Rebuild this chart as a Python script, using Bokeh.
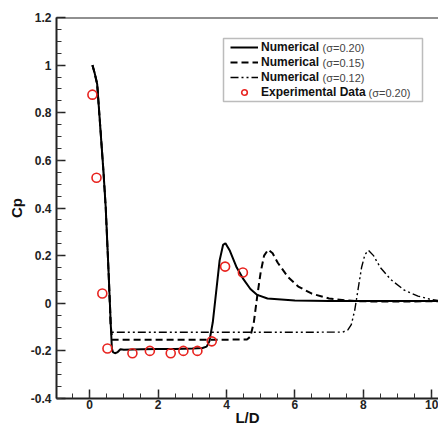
from bokeh.plotting import figure
from bokeh.models import (Range1d, FixedTicker, Span, Legend, LegendItem, Label,
                          BoxAnnotation)
from bokeh.embed import file_html
from bokeh.resources import INLINE
import numpy as np

# ---------------- data ----------------
x_s20 = [0.08, 0.14, 0.22, 0.30, 0.40, 0.47, 0.55, 0.62, 0.65, 0.68, 0.74, 0.82, 0.90, 1.0, 1.5, 2.0,
         2.5, 3.0, 3.3, 3.42, 3.5, 3.6, 3.7, 3.8, 3.9, 3.97, 4.1, 4.3, 4.5, 4.7, 4.9, 5.2, 6.0, 7.0,
         8.0, 9.0, 10.3]
y_s20 = [1.0, 0.97, 0.92, 0.76, 0.56, 0.40, 0.14, -0.10, -0.19, -0.205, -0.21, -0.205, -0.193, -0.195,
         -0.193, -0.192, -0.192, -0.19, -0.188, -0.182, -0.16, -0.08, 0.05, 0.18, 0.245, 0.252, 0.22,
         0.15, 0.10, 0.06, 0.035, 0.02, 0.012, 0.009, 0.009, 0.009, 0.01]

x_s15 = [0.08, 0.14, 0.22, 0.30, 0.40, 0.47, 0.55, 0.62, 0.66, 1.0, 2.0, 3.0, 4.0, 4.6, 4.7, 4.8, 4.9,
         5.0, 5.1, 5.22, 5.35, 5.5, 5.8, 6.1, 6.5, 7.0, 7.5, 8.0, 9.0, 10.3]
y_s15 = [1.0, 0.97, 0.92, 0.76, 0.56, 0.40, 0.14, -0.10, -0.153, -0.153, -0.153, -0.153, -0.153,
         -0.152, -0.14, -0.08, 0.03, 0.13, 0.20, 0.225, 0.21, 0.17, 0.11, 0.07, 0.04, 0.02, 0.012,
         0.008, 0.007, 0.009]

x_s12 = [0.08, 0.14, 0.22, 0.30, 0.40, 0.47, 0.55, 0.61, 0.66, 1.0, 2.0, 4.0, 6.0, 7.4, 7.55, 7.65,
         7.75, 7.85, 7.95, 8.05, 8.15, 8.3, 8.5, 8.8, 9.2, 9.6, 10.0, 10.3]
y_s12 = [1.0, 0.97, 0.92, 0.76, 0.56, 0.40, 0.14, -0.10, -0.122, -0.122, -0.122, -0.122, -0.122,
         -0.121, -0.112, -0.09, -0.03, 0.06, 0.15, 0.205, 0.222, 0.20, 0.15, 0.10, 0.055, 0.03,
         0.015, 0.01]

x_exp = [0.08, 0.20, 0.37, 0.52, 1.25, 1.76, 2.37, 2.74, 3.15, 3.57, 3.96, 4.48]
y_exp = [0.876, 0.527, 0.041, -0.19, -0.21, -0.20, -0.21, -0.20, -0.20, -0.16, 0.154, 0.129]

x_ticks = [0, 2, 4, 6, 8, 10]
x_tick_labels = ["0", "2", "4", "6", "8", "10"]
y_ticks = [-0.4, -0.2, 0, 0.2, 0.4, 0.6, 0.8, 1.0, 1.2]
y_tick_labels = ["-0.4", "-0.2", "0", "0.2", "0.4", "0.6", "0.8", "1", "1.2"]

series_labels = ["Numerical", "Numerical", "Numerical", "Experimental Data"]
sigma_labels = ["(σ=0.20)", "(σ=0.15)", "(σ=0.12)", "(σ=0.20)"]

# ---------------- figure ----------------
FONT = "Liberation Sans"
p = figure(width=438, height=428, output_backend="svg", toolbar_location=None,
           x_range=Range1d(-0.97, 10.2), y_range=Range1d(-0.4, 1.2),
           min_border_left=56, min_border_right=0, min_border_top=17, min_border_bottom=29)
p.outline_line_color = None
p.xgrid.visible = False
p.ygrid.visible = False
p.background_fill_color = "white"
p.border_fill_color = "white"

r1 = p.line(x_s20, y_s20, line_color="black", line_width=2)
r2 = p.line(x_s15, y_s15, line_color="black", line_width=2, line_dash="7 4")
r3 = p.line(x_s12, y_s12, line_color="black", line_width=1.4, line_dash="8 3 2 3 2 3")
r4 = p.scatter(x_exp, y_exp, marker="circle", size=9, fill_color=None,
               line_color="#e8231f", line_width=1.6)

p.add_layout(Span(location=1.2, dimension="width", line_color="#222222", line_width=2))

# axes
p.xaxis.ticker = FixedTicker(ticks=x_ticks, minor_ticks=list(np.arange(-0.5, 10.3, 0.5)))
p.yaxis.ticker = FixedTicker(ticks=y_ticks, minor_ticks=list(np.round(np.arange(-0.4, 1.21, 0.05), 3)))
p.xaxis.major_label_overrides = dict(zip(x_ticks, x_tick_labels))
p.yaxis.major_label_overrides = dict(zip(y_ticks, y_tick_labels))
for ax in (p.xaxis[0], p.yaxis[0]):
    ax.axis_line_color = "#222222"
    ax.axis_line_width = 2
    ax.major_tick_in = 9
    ax.major_tick_out = 0
    ax.minor_tick_in = 5
    ax.minor_tick_out = 0
    ax.major_tick_line_color = "#222222"
    ax.minor_tick_line_color = "#333333"
    ax.major_tick_line_width = 1.5
    ax.minor_tick_line_width = 1
    ax.major_label_text_font = FONT
    ax.major_label_text_font_style = "bold"
    ax.major_label_text_font_size = "12px"
    ax.major_label_text_color = "#222222"
    ax.axis_label_text_font = FONT
    ax.axis_label_text_font_style = "bold"
    ax.axis_label_text_font_size = "15px"
    ax.axis_label_text_color = "#111111"
p.xaxis.axis_label = "L/D"
p.yaxis.axis_label = "Cp"
p.xaxis.major_label_standoff = 1
p.xaxis.axis_label_standoff = -3
p.yaxis.major_label_standoff = 5
p.yaxis.axis_label_standoff = 3

# legend
legend = Legend(items=[LegendItem(label=series_labels[0], renderers=[r1]),
                       LegendItem(label=series_labels[1], renderers=[r2]),
                       LegendItem(label=series_labels[2], renderers=[r3]),
                       LegendItem(label=series_labels[3], renderers=[r4])],
                location=(174, 299), margin=0, padding=0, spacing=1,
                glyph_width=28, glyph_height=14, label_height=14, label_standoff=3,
                label_text_font=FONT, label_text_font_style="bold", label_text_font_size="12px",
                label_text_color="#111111", border_line_color=None, background_fill_alpha=0)
p.add_layout(legend)

p.add_layout(BoxAnnotation(left=167, right=366, bottom=297, top=360,
                           left_units="screen", right_units="screen",
                           bottom_units="screen", top_units="screen",
                           fill_color=None, fill_alpha=0, line_color="#222222", line_width=1.5))

sig_x = [266, 266, 266, 312]
sig_y = [350.7, 335.7, 320.7, 305.7]
for sx, sy, txt in zip(sig_x, sig_y, sigma_labels):
    p.add_layout(Label(x=sx, y=sy, x_units="screen", y_units="screen", text=txt,
                       text_font=FONT, text_font_size="11px", text_color="#444444",
                       text_baseline="middle", text_align="left"))

open("out.html", "w").write(file_html(p, INLINE))
